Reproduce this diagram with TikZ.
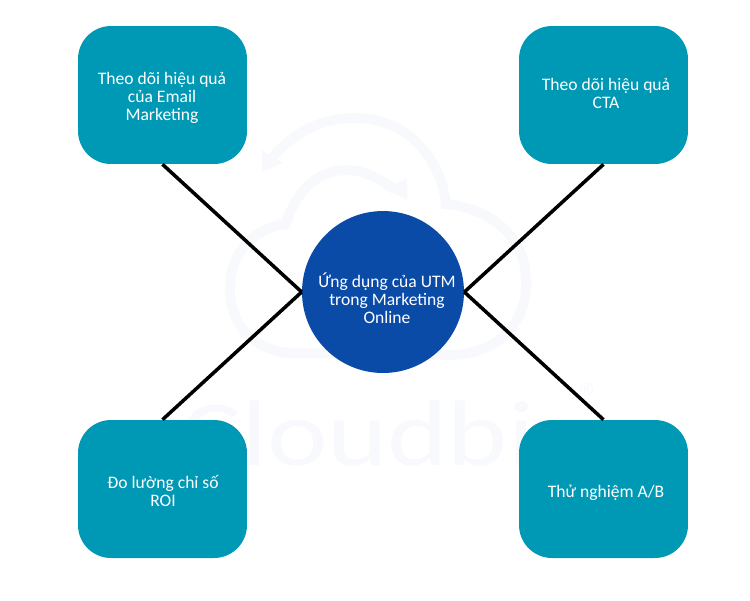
\documentclass[tikz,border=0pt]{standalone}
\usepackage{fontspec}
\setmainfont{Carlito}
\usepackage{xcolor}
\definecolor{boxteal}{HTML}{0099B5}
\definecolor{hubblue}{HTML}{0A4BA8}
\definecolor{markgray}{HTML}{F8F9FD}

\tikzset{
  boxnode/.style={draw=none, fill=boxteal, rounded corners=0.66cm, minimum width=3.38cm, minimum height=2.76cm, inner sep=0pt},
  hubnode/.style={circle, fill=hubblue, minimum size=3.24cm, inner sep=0pt},
  txt/.style={text=white, align=center, font=\fontsize{10}{10.25}\selectfont, inner sep=0pt},
  link/.style={line width=2pt, black},
  markline/.style={markgray, line width=0.2cm}
}

\begin{document}
\begin{tikzpicture}[x=0.02cm,y=-0.02cm]
  \useasboundingbox (0,0) rectangle (750,600);

  % faint cloud behind the diagram
  \draw[markline] (395,190) .. controls (345,150) and (300,175) .. (286,224)
    .. controls (255,228) and (232,250) .. (230,285)
    .. controls (228,320) and (250,350) .. (290,353) -- (450,355)
    .. controls (495,355) and (526,325) .. (526,285)
    .. controls (528,245) and (500,210) .. (446,204)
    .. controls (440,155) and (405,118) .. (355,118)
    .. controls (325,118) and (295,130) .. (272,158);
  \fill[markgray] (262,150) -- (283,163) -- (262,172) -- cycle;
  \fill[markgray] (407,178) -- (407,200) -- (385,188) -- cycle;
  \node[markgray, font=\fontsize{53}{53}\selectfont, inner sep=0pt] (wordmark) at (380,433) {\scalebox{1.23}[1]{Cloudbiz}};
  \node[markgray, font=\fontsize{24}{24}\selectfont, inner sep=0pt] (regmark) at (590,398) {®};

  % boxes and center
  \node[boxnode] (email) at (162.5,95) {};
  \node[boxnode] (cta) at (603.5,95) {};
  \node[boxnode] (roi) at (162.5,489) {};
  \node[boxnode] (abtest) at (603.5,489) {};
  \node[hubnode] (utm) at (383,292) {};

  \draw[link] (email.south) -- (utm.west);
  \draw[link] (roi.north) -- (utm.west);
  \draw[link] (cta.south) -- (utm.east);
  \draw[link] (abtest.north) -- (utm.east);

  % labels
  \node[txt] (emailtxt) at (162,98) {Theo dõi hiệu quả\\của Email\\Marketing};
  \node[txt] (ctatxt) at (606,93) {Theo dõi hiệu quả\\CTA};
  \node[txt] (roitxt) at (163,491) {Đo lường chỉ số\\ROI};
  \node[txt] (abtxt) at (606,493) {Thử nghiệm A/B};
  \node[txt] (utmtxt) at (387,298.5) {Ứng dụng của UTM\\trong Marketing\\Online};
\end{tikzpicture}
\end{document}
